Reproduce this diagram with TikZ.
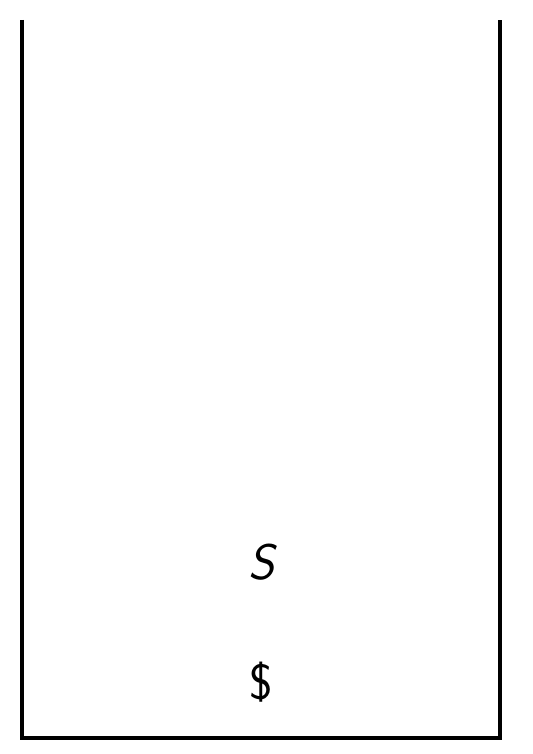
\documentclass[tikz,border=0pt]{standalone}
\usepackage{tikz}
\usetikzlibrary{positioning}

\begin{document}
\begin{tikzpicture}[
  x=0.5pt, y=-0.5pt,
  font=\fontsize{25}{30}\selectfont\sffamily,
  sym/.style={inner sep=0pt, anchor=center},
  wall/.style={draw=black, line width=2pt, line join=miter}
]
\useasboundingbox (0,0) rectangle (533,754);
\coordinate (topl) at (22,20);
\coordinate (botl) at (22,738);
\coordinate (botr) at (500,738);
\coordinate (topr) at (500,20);
\draw[wall] (topl) -- (botl) -- (botr) -- (topr);
\node[sym] (top) at (262,562) {\itshape S};
\node[sym] (bottom) at (261,682) {\$};
\end{tikzpicture}
\end{document}
